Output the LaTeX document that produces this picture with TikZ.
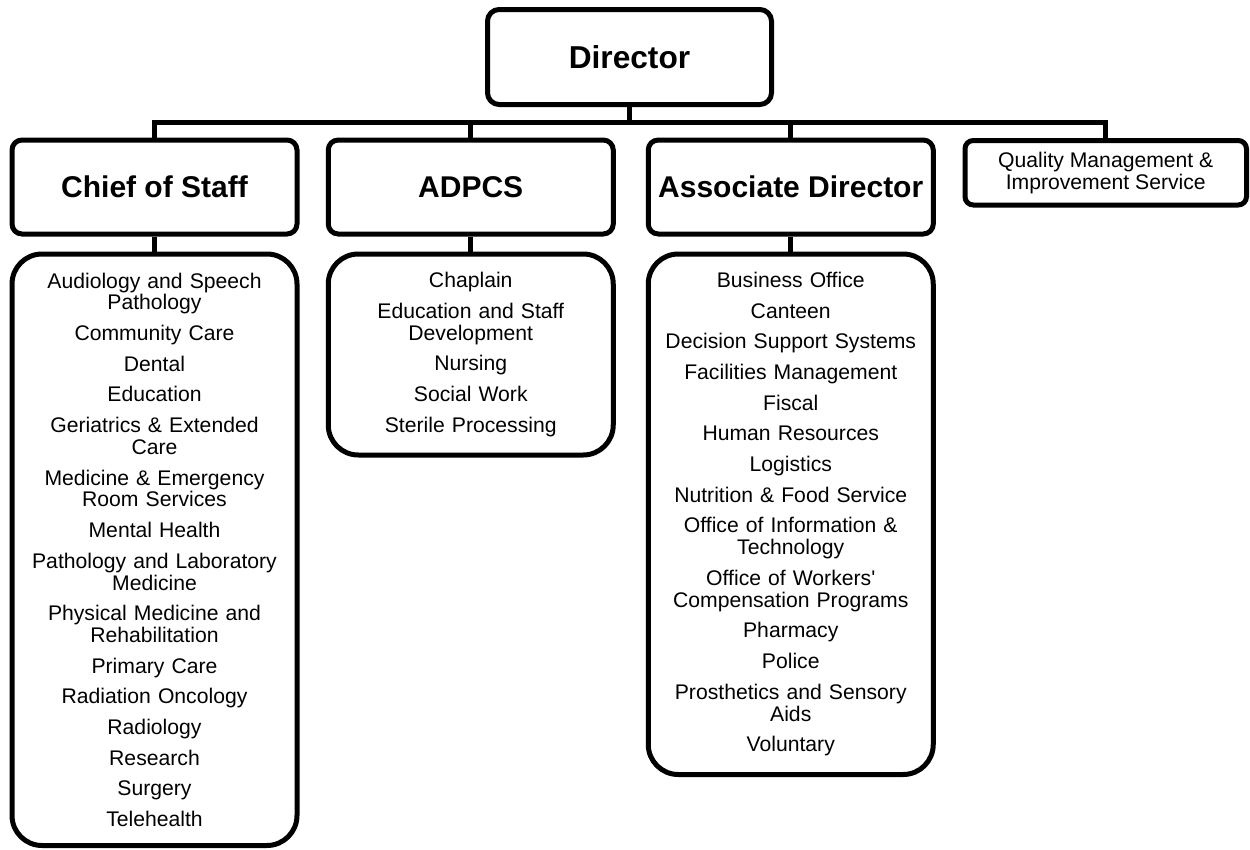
\documentclass[tikz,border=0pt]{standalone}
\usepackage{fontspec}
\setmainfont{Liberation Sans}
% same face without the TeX quote mapping, for a straight apostrophe
\newfontfamily\plainfont{Liberation Sans}
\begin{document}
\begin{tikzpicture}[x=0.6pt,y=-0.6pt,
  box/.style={draw=black,line width=3pt,fill=white,inner sep=0pt,align=center},
  head/.style={box,rounded corners=6pt,minimum width=171pt,minimum height=56.4pt,
    font=\fontsize{18}{21}\selectfont\bfseries},
  listbox/.style={box,rounded corners=18pt,minimum width=171pt,text width=165pt,
    font=\fontsize{12.7}{13.1}\selectfont},
  link/.style={line width=3pt,draw=black}]
\useasboundingbox (0,0) rectangle (1250,850);

% top level
\node[head,rounded corners=7pt,minimum width=170.4pt,minimum height=57pt,
  font=\fontsize{19}{22}\selectfont\bfseries] (dir) at (629.5,57) {Director};

% second level
\node[head] (cos) at (154.5,187) {Chief of Staff};
\node[head] (adp) at (470.75,187) {ADPCS};
\node[head] (ad)  at (790.75,187) {Associate Director};
\node[box,rounded corners=5pt,minimum width=168.9pt,minimum height=38.7pt,
  font=\fontsize{12.7}{13.4}\selectfont] (qm) at (1105.75,172.75)
  {Quality Management \&\\Improvement Service};

% service lists
\node[listbox,minimum height=354.9pt] (coslist) at (154.5,549.75) {%
Audiology and Speech\\Pathology\\[5.3pt]
Community Care\\[5.3pt]
Dental\\[5.3pt]
Education\\[5.3pt]
Geriatrics \& Extended\\Care\\[5.3pt]
Medicine \& Emergency\\Room Services\\[5.3pt]
Mental Health\\[5.3pt]
Pathology and Laboratory\\Medicine\\[5.3pt]
Physical Medicine and\\Rehabilitation\\[5.3pt]
Primary Care\\[5.3pt]
Radiation Oncology\\[5.3pt]
Radiology\\[5.3pt]
Research\\[5.3pt]
Surgery\\[5.3pt]
Telehealth};

\node[listbox,minimum height=120.6pt] (adplist) at (470.75,354.5) {%
Chaplain\\[5.3pt]
Education and Staff\\Development\\[5.3pt]
Nursing\\[5.3pt]
Social Work\\[5.3pt]
Sterile Processing};

\node[listbox,minimum height=312.3pt] (adlist) at (790.75,514.25) {%
Business Office\\[5.3pt]
Canteen\\[5.3pt]
Decision Support Systems\\[5.3pt]
Facilities Management\\[5.3pt]
Fiscal\\[5.3pt]
Human Resources\\[5.3pt]
Logistics\\[5.3pt]
Nutrition \& Food Service\\[5.3pt]
Office of Information \&\\Technology\\[5.3pt]
Office of Workers{\plainfont '}\\Compensation Programs\\[5.3pt]
Pharmacy\\[5.3pt]
Police\\[5.3pt]
Prosthetics and Sensory\\Aids\\[5.3pt]
Voluntary};

% connectors
\coordinate (bus) at (629.5,122);
\draw[link] (cos.north) |- (bus) -| (qm.north);
\draw[link] (dir.south) -- (bus);
\draw[link] (adp.north) -- (adp.north |- bus);
\draw[link] (ad.north) -- (ad.north |- bus);
\draw[link] (cos.south) -- (coslist.north);
\draw[link] (adp.south) -- (adplist.north);
\draw[link] (ad.south) -- (adlist.north);
\end{tikzpicture}
\end{document}
